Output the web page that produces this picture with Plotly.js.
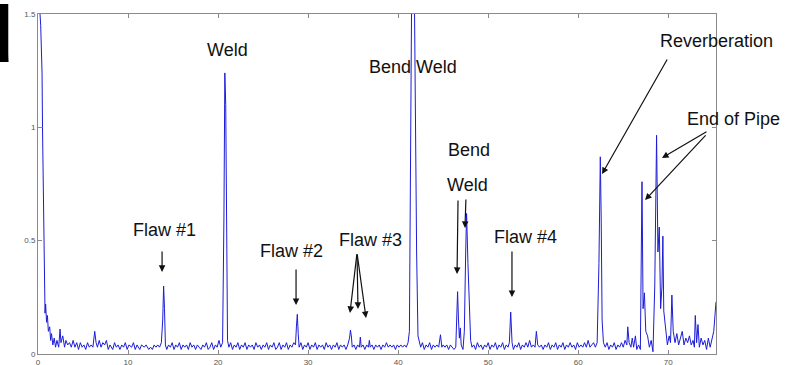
<!DOCTYPE html>
<html>
<head>
<meta charset="utf-8">
<script src="https://cdn.plot.ly/plotly-3.0.1.min.js"></script>
<style>html,body{margin:0;padding:0;background:#fff;}#chart{width:792px;height:365px;}</style>
</head>
<body>
<div id="chart"></div>
<script>
// Distance axis (x) and signal amplitude (y)
const position = [
  0, 0.15, 0.3, 0.4, 0.45, 0.5, 0.55, 0.6, 0.65, 0.72, 0.78, 0.85, 0.95, 1.05, 1.15, 1.3, 1.4, 1.5, 1.65, 1.8, 1.95,
  2.1, 2.3, 2.45, 2.55, 2.75, 2.95, 3.1, 3.3, 3.5, 3.7, 3.9, 4.1, 4.3, 4.5, 4.7, 4.9, 5.1, 5.3, 5.5, 5.7, 5.9,
  6.1, 6.3, 6.45, 6.6, 6.8, 7.0, 7.2, 7.4, 7.6, 7.8, 8.0, 8.3, 8.5, 8.7, 8.9, 9.1, 9.3, 9.5, 9.7, 9.9,
  10.1, 10.4, 10.6, 10.8, 11.0, 11.3, 11.5, 11.8, 12.0, 12.3, 12.5, 12.7, 12.9, 13.1, 13.3, 13.5, 13.7,
  13.85, 13.95, 14.05, 14.15, 14.3, 14.5, 14.7, 14.9, 15.1, 15.3, 15.5, 15.7, 15.9, 16.1, 16.3, 16.5, 16.7, 16.9,
  17.1, 17.3, 17.5, 17.7, 17.9, 18.1, 18.3, 18.5, 18.7, 18.9, 19.1, 19.3, 19.5, 19.7, 19.9, 20.1, 20.3, 20.5,
  20.65, 20.75, 20.85, 20.95, 21.05, 21.2, 21.4, 21.6, 21.8, 22.0, 22.2, 22.4, 22.6, 22.8, 23.0, 23.2, 23.4,
  23.6, 23.8, 24.0, 24.2, 24.4, 24.6, 24.8, 25.0, 25.2, 25.4, 25.6, 25.8, 26.0, 26.2, 26.4, 26.6, 26.8, 27.0,
  27.2, 27.4, 27.6, 27.8, 28.0, 28.2, 28.4, 28.6, 28.7, 28.8, 28.9, 29.0, 29.2, 29.4, 29.6, 29.8, 30.0, 30.2,
  30.4, 30.6, 30.8, 31.0, 31.2, 31.4, 31.6, 31.8, 32.0, 32.2, 32.4, 32.6, 32.8, 33.0, 33.2, 33.4, 33.6, 33.8,
  34.0, 34.2, 34.4, 34.6, 34.7, 34.8, 34.9, 35.1, 35.3, 35.5, 35.7, 35.8, 35.9, 36.1, 36.3, 36.5, 36.7, 36.8,
  36.9, 37.1, 37.3, 37.5, 37.7, 37.9, 38.1, 38.3, 38.5, 38.7, 38.9, 39.1, 39.3, 39.5, 39.7, 39.9, 40.1, 40.3,
  40.5, 40.7, 40.9, 41.1, 41.25, 41.35, 41.5, 41.8, 41.95, 42.05, 42.2, 42.35, 42.5, 42.7, 42.9, 43.1, 43.3,
  43.5, 43.7, 43.9, 44.1, 44.3, 44.5, 44.7, 44.85, 45.0, 45.2, 45.4, 45.6, 45.8, 46.0, 46.2, 46.4, 46.5, 46.6,
  46.7, 46.8, 46.9, 47.0, 47.2, 47.35, 47.5, 47.6, 47.75, 47.9, 48.05, 48.2, 48.4, 48.6, 48.8, 49.0, 49.2,
  49.4, 49.6, 49.8, 50.0, 50.2, 50.4, 50.6, 50.8, 51.0, 51.2, 51.4, 51.6, 51.8, 52.0, 52.2, 52.35, 52.5, 52.65,
  52.8, 53.0, 53.2, 53.4, 53.6, 53.8, 54.0, 54.2, 54.4, 54.6, 54.8, 55.0, 55.2, 55.35, 55.5, 55.7, 55.9, 56.1,
  56.3, 56.5, 56.7, 56.9, 57.1, 57.3, 57.5, 57.7, 57.9, 58.1, 58.3, 58.5, 58.7, 58.9, 59.1, 59.3, 59.5, 59.7,
  59.9, 60.1, 60.3, 60.5, 60.7, 60.9, 61.1, 61.3, 61.5, 61.7, 61.9, 62.1, 62.3, 62.45, 62.55, 62.65, 62.8,
  63.0, 63.2, 63.4, 63.6, 63.8, 64.0, 64.2, 64.4, 64.6, 64.8, 65.0, 65.2, 65.4, 65.5, 65.65, 65.85, 66.0,
  66.15, 66.35, 66.5, 66.7, 66.9, 67.0, 67.08, 67.2, 67.35, 67.5, 67.7, 67.9, 68.1, 68.3, 68.5, 68.7, 68.85,
  69.0, 69.15, 69.3, 69.4, 69.5, 69.7, 69.9, 70.1, 70.25, 70.4, 70.55, 70.75, 70.95, 71.15, 71.35, 71.55,
  71.75, 71.95, 72.15, 72.35, 72.55, 72.75, 72.9, 73.0, 73.15, 73.3, 73.45, 73.65, 73.85, 74.05, 74.25,
  74.45, 74.65, 74.85, 75.05, 75.3
];
const amplitude = [
  1.6, 1.55, 1.45, 1.3, 1.24, 1.0, 0.82, 0.62, 0.45, 0.3, 0.18, 0.22, 0.14, 0.17, 0.1, 0.12, 0.06, 0.09, 0.04, 0.07, 0.03,
  0.06, 0.03, 0.11, 0.05, 0.08, 0.03, 0.06, 0.04, 0.05, 0.03, 0.06, 0.03, 0.05, 0.02, 0.05, 0.03, 0.04, 0.02, 0.05, 0.03, 0.04,
  0.03, 0.1, 0.05, 0.03, 0.06, 0.03, 0.05, 0.04, 0.06, 0.02, 0.04, 0.02, 0.05, 0.03, 0.04, 0.02, 0.04, 0.03, 0.05, 0.02,
  0.04, 0.03, 0.05, 0.02, 0.04, 0.02, 0.04, 0.03, 0.04, 0.02, 0.03, 0.02, 0.04, 0.03, 0.04, 0.03, 0.05,
  0.15, 0.3, 0.2, 0.04, 0.02, 0.04, 0.03, 0.05, 0.02, 0.04, 0.03, 0.05, 0.02, 0.04, 0.03, 0.04, 0.02, 0.05,
  0.03, 0.04, 0.02, 0.04, 0.03, 0.02, 0.04, 0.03, 0.05, 0.02, 0.03, 0.05, 0.02, 0.04, 0.03, 0.06, 0.03, 0.05,
  0.6, 1.24, 1.1, 0.3, 0.06, 0.03, 0.05, 0.02, 0.04, 0.03, 0.05, 0.02, 0.04, 0.03, 0.05, 0.02, 0.04,
  0.03, 0.04, 0.02, 0.05, 0.03, 0.04, 0.02, 0.04, 0.03, 0.05, 0.02, 0.04, 0.03, 0.05, 0.02, 0.03, 0.05, 0.02,
  0.04, 0.03, 0.05, 0.02, 0.04, 0.03, 0.05, 0.04, 0.12, 0.175, 0.09, 0.03, 0.05, 0.02, 0.04, 0.03, 0.05, 0.02,
  0.04, 0.03, 0.05, 0.02, 0.04, 0.03, 0.04, 0.02, 0.05, 0.03, 0.04, 0.02, 0.04, 0.03, 0.05, 0.02, 0.04, 0.03,
  0.04, 0.02, 0.04, 0.07, 0.105, 0.08, 0.03, 0.04, 0.02, 0.04, 0.03, 0.075, 0.03, 0.04, 0.02, 0.04, 0.03, 0.06,
  0.03, 0.04, 0.02, 0.04, 0.03, 0.04, 0.02, 0.04, 0.03, 0.05, 0.03, 0.04, 0.03, 0.04, 0.02, 0.04, 0.03, 0.04,
  0.03, 0.04, 0.03, 0.05, 0.1, 0.6, 1.6, 1.6, 0.8, 0.45, 0.08, 0.05, 0.03, 0.05, 0.02, 0.04, 0.03,
  0.05, 0.02, 0.04, 0.03, 0.04, 0.03, 0.085, 0.03, 0.04, 0.03, 0.04, 0.02, 0.04, 0.03, 0.02, 0.03, 0.2, 0.275,
  0.15, 0.07, 0.115, 0.04, 0.02, 0.1, 0.45, 0.62, 0.4, 0.24, 0.06, 0.03, 0.04, 0.02, 0.05, 0.03, 0.04,
  0.02, 0.04, 0.03, 0.05, 0.02, 0.04, 0.03, 0.05, 0.02, 0.04, 0.03, 0.05, 0.02, 0.04, 0.03, 0.05, 0.185, 0.05,
  0.02, 0.04, 0.03, 0.05, 0.02, 0.04, 0.03, 0.05, 0.03, 0.06, 0.03, 0.04, 0.03, 0.1, 0.04, 0.03, 0.04, 0.02,
  0.04, 0.03, 0.05, 0.02, 0.04, 0.03, 0.05, 0.02, 0.04, 0.03, 0.05, 0.02, 0.04, 0.03, 0.05, 0.03, 0.04, 0.02,
  0.05, 0.03, 0.04, 0.03, 0.05, 0.03, 0.06, 0.03, 0.04, 0.05, 0.03, 0.05, 0.4, 0.87, 0.6, 0.15, 0.05,
  0.03, 0.05, 0.02, 0.04, 0.03, 0.05, 0.02, 0.04, 0.03, 0.05, 0.03, 0.06, 0.04, 0.12, 0.05, 0.03, 0.07,
  0.03, 0.08, 0.02, 0.04, 0.02, 0.5, 0.76, 0.2, 0.27, 0.1, 0.08, 0.03, 0.06, 0.01, 0.3, 0.965, 0.45,
  0.56, 0.2, 0.3, 0.52, 0.19, 0.1, 0.04, 0.08, 0.05, 0.26, 0.1, 0.05, 0.09, 0.04, 0.07, 0.1,
  0.04, 0.07, 0.05, 0.08, 0.04, 0.06, 0.03, 0.17, 0.05, 0.13, 0.03, 0.07, 0.04, 0.06, 0.02,
  0.07, 0.03, 0.06, 0.1, 0.23
];
const xTickValues = [0, 10, 20, 30, 40, 50, 60, 70];
const yTickValues = [0, 0.5, 1, 1.5];
const yTickLabels = ['0', '0.5', '1', '1.5'];

const labelFont = {family: 'Liberation Sans, Arial, sans-serif', size: 18, color: '#111'};
function label(text, x, y, xref) {
  return {text: text, x: x, y: y, xref: xref || 'x', yref: 'y', showarrow: false,
          xanchor: 'center', yanchor: 'middle', font: labelFont};
}
function arrow(tailX, tailY, headX, headY) {
  return {text: '', x: headX, y: headY, ax: tailX, ay: tailY, xref: 'x', yref: 'y',
          axref: 'x', ayref: 'y', showarrow: true, arrowhead: 2, arrowsize: 1.1,
          arrowwidth: 1.2, arrowcolor: '#111', standoff: 0, startstandoff: 0};
}

const annotations = [
  label('Weld', 21.0, 1.341),
  label('Flaw #1', 14.0, 0.547), arrow(13.78, 0.459, 13.78, 0.362),
  label('Flaw #2', 28.2, 0.454), arrow(28.66, 0.379, 28.66, 0.216),
  label('Flaw #3', 36.9, 0.503),
  arrow(35.43, 0.446, 34.65, 0.181), arrow(35.43, 0.446, 35.54, 0.199), arrow(35.43, 0.446, 36.43, 0.159),
  label('Bend Weld', 41.65, 1.266),
  label('Bend', 47.87, 0.9), label('Weld', 47.65, 0.746),
  arrow(46.65, 0.684, 46.54, 0.353), arrow(47.53, 0.688, 47.42, 0.556),
  label('Flaw #4', 54.09, 0.516), arrow(52.64, 0.459, 52.64, 0.251),
  label('Reverberation', 1.0, 1.381, 'paper'), arrow(69.97, 1.306, 62.64, 0.794),
  label('End of Pipe', 1.0265, 1.037, 'paper'),
  arrow(74.41, 0.984, 69.3, 0.865), arrow(74.3, 0.971, 67.42, 0.679),
  {text: '<b>d</b>', xref: 'paper', yref: 'paper', x: -0.033, y: 1.076, xanchor: 'right', yanchor: 'top',
   showarrow: false, font: {family: 'Liberation Sans, Arial, sans-serif', size: 80, color: '#000'}}
];

const axisCommon = {
  showline: true, linecolor: '#8a8a8a', linewidth: 1, mirror: 'ticks',
  ticks: 'inside', ticklen: 4, tickcolor: '#8a8a8a', showgrid: false, zeroline: false,
  tickfont: {family: 'Liberation Sans, Arial, sans-serif', size: 8, color: '#555'}
};

Plotly.newPlot('chart', [{
  x: position, y: amplitude, type: 'scatter', mode: 'lines',
  line: {color: 'rgb(28,28,215)', width: 1}, hoverinfo: 'skip'
}], {
  width: 792, height: 365,
  margin: {l: 38, r: 76, t: 14, b: 11, pad: 0},
  paper_bgcolor: '#fff', plot_bgcolor: '#fff', showlegend: false,
  xaxis: Object.assign({}, axisCommon, {range: [0, 75.3], tickvals: xTickValues, ticklabelstandoff: 0}),
  yaxis: Object.assign({}, axisCommon, {range: [0, 1.5], tickvals: yTickValues, ticktext: yTickLabels}),
  annotations: annotations
}, {staticPlot: true});
</script>
</body>
</html>
